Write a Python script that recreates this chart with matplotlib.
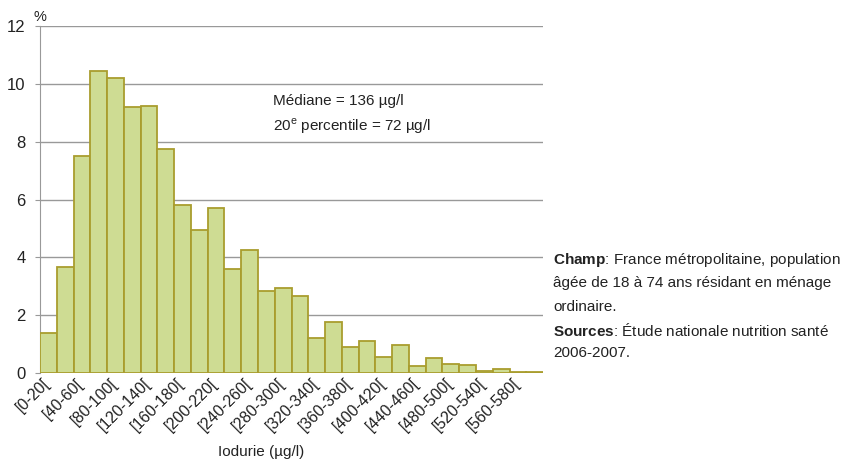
import matplotlib
matplotlib.use('Agg')
import matplotlib.pyplot as plt
import matplotlib.transforms as mtransforms
import numpy as np

FONT = ['Liberation Sans', 'DejaVu Sans']

# bins of 20 ug/l from 0 to 600
bin_starts = list(range(0, 600, 20))
percent = [1.4, 3.65, 7.5, 10.45, 10.2, 9.2, 9.25, 7.75, 5.8, 4.95,
           5.7, 3.6, 4.25, 2.85, 2.95, 2.65, 1.2, 1.75, 0.9, 1.1,
           0.55, 0.98, 0.25, 0.52, 0.3, 0.28, 0.08, 0.15, 0.05, 0.05]
tick_labels = ['[%d-%d[' % (s, s + 20) for s in bin_starts[::2]]
y_ticks = [0, 2, 4, 6, 8, 10, 12]

plt.rcParams['font.family'] = FONT
plt.rcParams['mathtext.fontset'] = 'custom'
plt.rcParams['mathtext.rm'] = 'Liberation Sans'
plt.rcParams['mathtext.bf'] = 'Liberation Sans:bold'

fig = plt.figure(figsize=(8.48, 4.62), dpi=100)
ax = fig.add_axes([0.0472, 0.1926, 0.5932, 0.7511])

x = np.arange(len(percent))
ax.bar(x, percent, width=1.0, facecolor='#cedc93', edgecolor='#a99d2e',
       linewidth=1.3, zorder=3)

ax.set_xlim(-0.5, len(percent) - 0.5)
ax.set_ylim(0, 12)
ax.set_yticks(y_ticks)
ax.set_yticklabels([str(v) for v in y_ticks], fontsize=12, color='#222222')
ax.yaxis.grid(True, color='#999999', linewidth=1.0, zorder=0)
ax.tick_params(axis='y', length=3.5, color='#999999', pad=7)

ax.set_xticks(x[::2])
ax.set_xticklabels(tick_labels, rotation=45, ha='right', va='top',
                   rotation_mode='anchor', fontsize=11.5, color='#222222')
ax.tick_params(axis='x', length=0, pad=2)
shift = mtransforms.ScaledTranslation(-6 / 100, 0, fig.dpi_scale_trans)
for lab in ax.get_xticklabels():
    lab.set_transform(lab.get_transform() + shift)

for s in ['top', 'right', 'bottom']:
    ax.spines[s].set_visible(False)
ax.spines['left'].set_color('#999999')

ax.set_xlabel('Iodurie (µg/l)', fontsize=11, color='#222222', va='center')
ax.xaxis.set_label_coords(0.44, -0.228)
fig.text(0.039, 0.955, '%', fontsize=10.5, color='#222222')

ax.text(0.463, 0.773, 'Médiane = 136 µg/l', transform=ax.transAxes,
        fontsize=11, color='#222222')
ax.text(0.463, 0.698, r'20$^{\mathrm{e}}$ percentile = 72 µg/l',
        transform=ax.transAxes, fontsize=11, color='#222222')

notes = [r'$\mathbf{Champ}$: France métropolitaine, population',
         'âgée de 18 à 74 ans résidant en ménage',
         'ordinaire.',
         r'$\mathbf{Sources}$: Étude nationale nutrition santé',
         '2006-2007.']
for i, line in enumerate(notes):
    fig.text(0.652, 0.437 - i * 0.0505, line, fontsize=11,
             color='#222222', va='center')

fig.savefig('out.png', dpi=100)
